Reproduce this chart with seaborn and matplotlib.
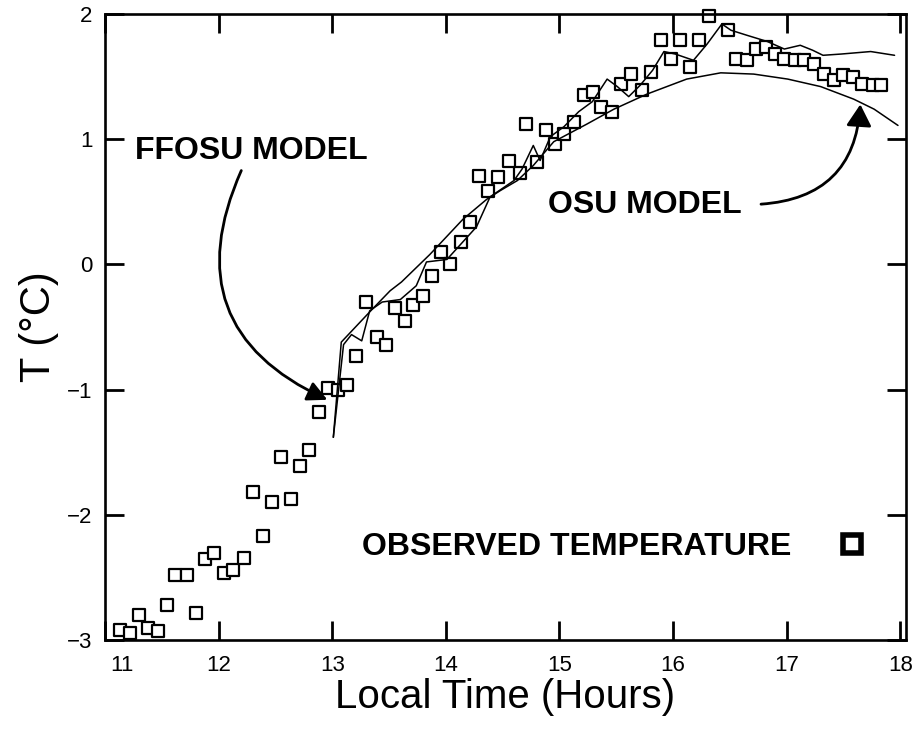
import matplotlib
matplotlib.use("Agg")
import matplotlib.pyplot as plt
import matplotlib.transforms as mtransforms
import seaborn as sns
import pandas as pd
from matplotlib.lines import Line2D

# observed temperature (squares)
obs_time = [11.13, 11.22, 11.30, 11.38, 11.47, 11.55, 11.62, 11.72, 11.80, 11.88,
            11.96, 12.05, 12.13, 12.22, 12.30, 12.39, 12.47, 12.55, 12.64, 12.72,
            12.80, 12.88, 12.96, 13.05, 13.13, 13.21, 13.30, 13.39, 13.47, 13.55,
            13.64, 13.71, 13.80, 13.88, 13.96, 14.04, 14.13, 14.21, 14.29, 14.37,
            14.46, 14.56, 14.65, 14.71, 14.80, 14.88, 14.96, 15.04, 15.13, 15.22,
            15.30, 15.37, 15.46, 15.54, 15.63, 15.73, 15.81, 15.89, 15.98, 16.06,
            16.15, 16.23, 16.32, 16.48, 16.55, 16.65, 16.73, 16.82, 16.90, 16.98,
            17.07, 17.15, 17.24, 17.33, 17.42, 17.50, 17.58, 17.66, 17.76, 17.83]
obs_temp = [-2.92, -2.94, -2.80, -2.90, -2.93, -2.72, -2.48, -2.48, -2.78, -2.35,
            -2.30, -2.46, -2.44, -2.34, -1.82, -2.17, -1.90, -1.54, -1.87, -1.61,
            -1.48, -1.18, -0.99, -1.00, -0.96, -0.73, -0.30, -0.58, -0.64, -0.35,
            -0.45, -0.32, -0.25, -0.09, 0.10, 0.00, 0.18, 0.34, 0.71, 0.59,
            0.70, 0.83, 0.73, 1.12, 0.82, 1.07, 0.96, 1.04, 1.14, 1.35,
            1.38, 1.26, 1.22, 1.44, 1.52, 1.39, 1.54, 1.79, 1.64, 1.79,
            1.58, 1.79, 1.98, 1.87, 1.64, 1.63, 1.72, 1.74, 1.68, 1.64,
            1.63, 1.63, 1.60, 1.52, 1.47, 1.51, 1.50, 1.44, 1.43, 1.43]

# OSU model (smooth curve)
osu_time = [13.01, 13.08, 13.35, 13.51, 13.61, 13.86, 14.15, 14.36, 14.48, 14.63,
            14.77, 14.95, 15.24, 15.48, 15.77, 16.12, 16.42, 16.71, 17.01, 17.30,
            17.59, 17.77, 17.98]
osu_temp = [-1.38, -0.62, -0.36, -0.21, -0.14, 0.08, 0.36, 0.52, 0.59, 0.67,
            0.79, 0.98, 1.12, 1.24, 1.36, 1.48, 1.53, 1.52, 1.48, 1.42,
            1.32, 1.24, 1.11]

# FFOSU model (jagged curve)
ffosu_time = [13.01, 13.10, 13.17, 13.26, 13.33, 13.44, 13.60, 13.74, 13.83, 14.01,
              14.27, 14.39, 14.60, 14.67, 14.77, 14.83, 14.92, 15.04, 15.17, 15.29,
              15.42, 15.51, 15.61, 15.71, 15.82, 15.92, 16.02, 16.18, 16.30, 16.43,
              16.51, 16.65, 16.83, 16.98, 17.12, 17.23, 17.32, 17.48, 17.74, 17.95]
ffosu_temp = [-1.38, -0.64, -0.56, -0.61, -0.37, -0.30, -0.28, -0.17, 0.02, 0.04,
              0.30, 0.54, 0.67, 0.76, 0.95, 0.83, 1.02, 1.10, 1.22, 1.30,
              1.48, 1.42, 1.34, 1.43, 1.55, 1.70, 1.68, 1.63, 1.76, 1.92,
              1.87, 1.83, 1.78, 1.72, 1.75, 1.71, 1.67, 1.68, 1.70, 1.67]

xticks = [11, 12, 13, 14, 15, 16, 17, 18]
yticks = [-3, -2, -1, 0, 1, 2]

sns.set_style("ticks")
plt.rcParams['font.family'] = ['Liberation Sans', 'DejaVu Sans']
plt.rcParams['text.color'] = 'black'
plt.rcParams['axes.labelcolor'] = 'black'
plt.rcParams['xtick.color'] = 'black'
plt.rcParams['ytick.color'] = 'black'

obs = pd.DataFrame({"time": obs_time, "temp": obs_temp})
osu = pd.DataFrame({"time": osu_time, "temp": osu_temp})
ffosu = pd.DataFrame({"time": ffosu_time, "temp": ffosu_temp})

fig = plt.figure(figsize=(9.16, 7.35), dpi=100)
ax = fig.add_axes([0.1146, 0.129, 0.8744, 0.852])

sns.scatterplot(data=obs, x="time", y="temp", ax=ax, marker="s", s=72,
                color="white", edgecolor="black", linewidth=1.6,
                zorder=2, clip_on=False, legend=False)
sns.lineplot(data=osu, x="time", y="temp", ax=ax, sort=False, estimator=None,
             color="black", lw=1.1, zorder=3)
sns.lineplot(data=ffosu, x="time", y="temp", ax=ax, sort=False, estimator=None,
             color="black", lw=1.1, zorder=3)

ax.set_xlim(11, 18.05)
ax.set_ylim(-3, 2)
ax.set_xticks(xticks)
ax.set_yticks(yticks)
ax.tick_params(direction="in", length=14, width=2, top=True, right=True,
               labelsize=16, colors="black")
ax.tick_params(axis="x", pad=11)
ax.tick_params(axis="y", pad=9)
for sp in ax.spines.values():
    sp.set_linewidth(1.9)
    sp.set_color("black")

# first x label sits a little right of its tick in the original
first = ax.get_xticklabels()[0]
first.set_transform(first.get_transform() +
                    mtransforms.ScaledTranslation(12 / 72, 0, fig.dpi_scale_trans))

ax.set_xlabel("Local Time (Hours)", fontsize=29, labelpad=1)
ax.set_ylabel("T (°C)", fontsize=30, labelpad=6)

# annotations
ax.text(11.26, 0.84, "FFOSU MODEL", fontsize=23, fontweight="bold", va="baseline")
ax.annotate("", xy=(12.98, -1.09), xytext=(12.21, 0.77),
            arrowprops=dict(arrowstyle="-|>,head_length=0.6,head_width=0.3",
                            connectionstyle="arc3,rad=0.5", color="black",
                            lw=2, mutation_scale=20))
ax.text(14.90, 0.41, "OSU MODEL", fontsize=23, fontweight="bold", va="baseline")
ax.annotate("", xy=(17.65, 1.30), xytext=(16.75, 0.48),
            arrowprops=dict(arrowstyle="-|>,head_length=0.6,head_width=0.35",
                            connectionstyle="arc3,rad=0.45", color="black",
                            lw=2, mutation_scale=22))

handle = Line2D([], [], marker="s", linestyle="none", markersize=13,
                markerfacecolor="white", markeredgecolor="black",
                markeredgewidth=4)
ax.legend([handle], ["OBSERVED TEMPERATURE"], loc="center right",
          bbox_to_anchor=(0.969, 0.1486), frameon=False, markerfirst=False,
          handlelength=1.0, handletextpad=1.4, borderaxespad=0,
          prop={"size": 23, "weight": "bold"})

fig.savefig("out.png", dpi=100)
